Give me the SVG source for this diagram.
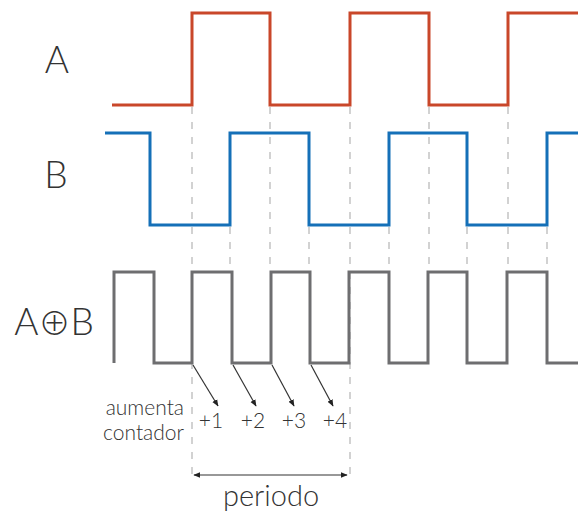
<svg xmlns="http://www.w3.org/2000/svg" width="578" height="511" viewBox="0 0 578 511">
  <style>
    .wave { fill: none; stroke-width: 3; stroke-linejoin: miter; stroke-linecap: butt; }
    .wa { stroke: #c9472a; }
    .wb { stroke: #1570b8; }
    .wx { stroke: #6e6e70; }
    .guide { stroke: #c4c4c4; stroke-width: 1.5; stroke-dasharray: 7 8; fill: none; }
    .lbl { font-family: Lato, "Liberation Sans", sans-serif; font-weight: 300; fill: #333333; }
    .big { font-size: 37px; text-anchor: middle; }
    .small { font-size: 21px; }
    .ptr { stroke: #333333; stroke-width: 1.2; fill: none; }
    .xor { font-family: "Noto Sans CJK JP", "DejaVu Sans", sans-serif; font-weight: 200; font-size: 32px; }
  </style>
  <defs>
    <marker id="head" viewBox="0 0 10 10" refX="9" refY="5" markerWidth="7" markerHeight="7" orient="auto-start-reverse" markerUnits="userSpaceOnUse">
      <path d="M0,1 L10,5 L0,9 Z" fill="#222222"/>
    </marker>
  </defs>

  <!-- vertical guides at signal edges -->
  <g id="guides">
    <path class="guide" d="M192,107 V476 M270,107 V270 M350,107 V476 M429,107 V270 M508,107 V270"/>
    <path class="guide" d="M230,227 V270 M309,227 V270 M389,227 V270 M467,227 V270 M547,227 V270"/>
  </g>

  <!-- signal A -->
  <g id="signal-a">
    <path class="wave wa" d="M112,105 H192 V13 H270 V105 H350 V13 H429 V105 H508 V13 H578"/>
    <text class="lbl big" x="57" y="73">A</text>
  </g>

  <!-- signal B -->
  <g id="signal-b">
    <path class="wave wb" d="M105,133 H150 V225 H230 V133 H309 V225 H389 V133 H467 V225 H547 V133 H578"/>
    <text class="lbl big" x="56" y="188">B</text>
  </g>

  <!-- A xor B -->
  <g id="signal-xor">
    <path class="wave wx" d="M114,363 V272 H154 V363 H192 V272 H232 V363 H271 V272 H310 V363 H349 V272 H389 V363 H428 V272 H467 V363 H507 V272 H547 V363 H578"/>
    <text class="lbl big" x="54" y="335">A<tspan class="xor">⊕</tspan>B</text>
  </g>

  <!-- counter increments -->
  <g id="connectors">
    <line class="ptr" x1="193" y1="365" x2="218" y2="406" marker-end="url(#head)"/>
    <line class="ptr" x1="233" y1="365" x2="256" y2="406" marker-end="url(#head)"/>
    <line class="ptr" x1="272" y1="365" x2="294" y2="406" marker-end="url(#head)"/>
    <line class="ptr" x1="311" y1="365" x2="333" y2="406" marker-end="url(#head)"/>
    <line class="ptr" x1="194" y1="475" x2="347" y2="475" stroke-width="1.6" marker-start="url(#head)" marker-end="url(#head)"/>
  </g>

  <g id="counter-labels">
    <text class="lbl small" x="184" y="415" text-anchor="end">aumenta</text>
    <text class="lbl small" x="184" y="440" text-anchor="end">contador</text>
    <text class="lbl small" x="211" y="428" text-anchor="middle">+1</text>
    <text class="lbl small" x="253" y="428" text-anchor="middle">+2</text>
    <text class="lbl small" x="294" y="428" text-anchor="middle">+3</text>
    <text class="lbl small" x="335" y="428" text-anchor="middle">+4</text>
  </g>

  <g id="period">
    <text class="lbl" x="271" y="506" font-size="29" text-anchor="middle">periodo</text>
  </g>
</svg>
